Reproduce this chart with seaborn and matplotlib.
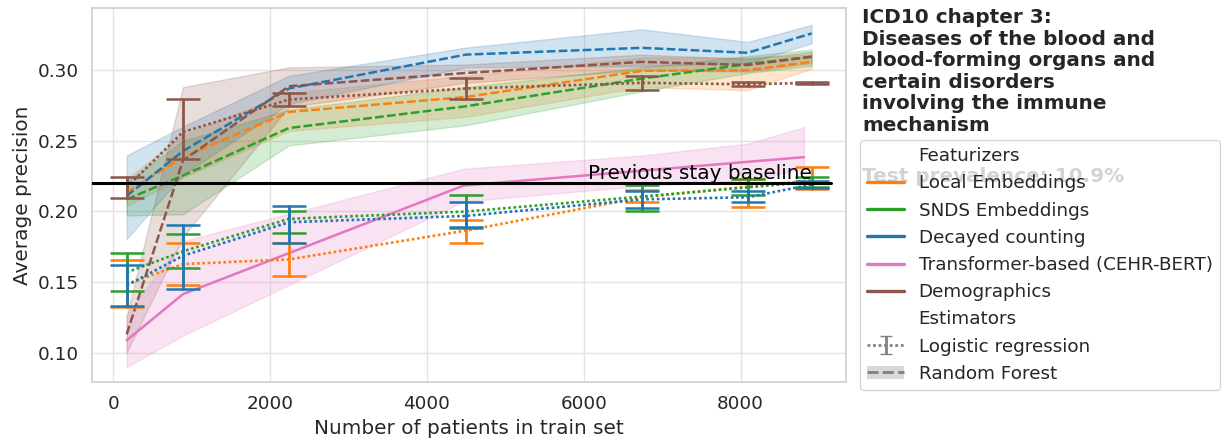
import numpy as np
import pandas as pd
import seaborn as sns
import matplotlib
matplotlib.use("Agg")
import matplotlib.pyplot as plt
from matplotlib.lines import Line2D
from matplotlib.patches import Patch

# ---------------- data ----------------
n_train = [171, 889, 2240, 4497, 6742, 8091, 8907]
n_train_transformer = [171, 889, 4470, 6742, 8091, 8810]

featurizers = ["Local Embeddings", "SNDS Embeddings", "Decayed counting",
               "Transformer-based (CEHR-BERT)", "Demographics"]
colors = ["#ff7f0e", "#2ca02c", "#1f77b4", "#e377c2", "#8c564b"]

# Logistic regression (mean, lower, upper)
lr_local_mean = [0.1485, 0.1627, 0.1660, 0.1864, 0.2100, 0.2175, 0.2220]
lr_local_lo = [0.1324, 0.1478, 0.1542, 0.1778, 0.2065, 0.2029, 0.2160]
lr_local_hi = [0.1658, 0.1776, 0.1773, 0.1937, 0.2153, 0.2228, 0.2313]

lr_snds_mean = [0.1568, 0.1717, 0.1947, 0.1999, 0.2105, 0.2170, 0.2210]
lr_snds_lo = [0.1438, 0.1596, 0.1847, 0.1880, 0.2006, 0.2119, 0.2175]
lr_snds_hi = [0.1702, 0.1840, 0.2006, 0.2119, 0.2188, 0.2231, 0.2240]

lr_decay_mean = [0.1475, 0.1686, 0.1923, 0.1968, 0.2085, 0.2100, 0.2190]
lr_decay_lo = [0.1331, 0.1454, 0.1773, 0.1890, 0.2025, 0.2065, 0.2165]
lr_decay_hi = [0.1617, 0.1906, 0.2036, 0.2065, 0.2141, 0.2143, 0.2215]

lr_demo_mean = [0.2170, 0.2562, 0.2792, 0.2870, 0.2910, 0.2900, 0.2910]
lr_demo_lo = [0.2096, 0.2368, 0.2744, 0.2794, 0.2863, 0.2891, 0.2905]
lr_demo_hi = [0.2242, 0.2794, 0.2839, 0.2946, 0.2957, 0.2917, 0.2915]

# Random forest (mean, lower, upper)
rf_local_mean = [0.2135, 0.2384, 0.2704, 0.2810, 0.2995, 0.3000, 0.3059]
rf_local_lo = [0.2040, 0.2240, 0.2570, 0.2670, 0.2880, 0.2858, 0.3010]
rf_local_hi = [0.2230, 0.2540, 0.2840, 0.2960, 0.3090, 0.3090, 0.3110]

rf_snds_mean = [0.2085, 0.2254, 0.2590, 0.2744, 0.2940, 0.3043, 0.3095]
rf_snds_lo = [0.1970, 0.1980, 0.2467, 0.2610, 0.2850, 0.2980, 0.3030]
rf_snds_hi = [0.2210, 0.2500, 0.2720, 0.2880, 0.3020, 0.3100, 0.3145]

rf_decay_mean = [0.2110, 0.2427, 0.2870, 0.3110, 0.3158, 0.3123, 0.3260]
rf_decay_lo = [0.1805, 0.2260, 0.2760, 0.3020, 0.3030, 0.3050, 0.3190]
rf_decay_hi = [0.2396, 0.2600, 0.2960, 0.3160, 0.3289, 0.3200, 0.3320]

rf_demo_mean = [0.1130, 0.2360, 0.2886, 0.2980, 0.3059, 0.3036, 0.3095]
rf_demo_lo = [0.1000, 0.1820, 0.2740, 0.2910, 0.3000, 0.2990, 0.3050]
rf_demo_hi = [0.1260, 0.2880, 0.3020, 0.3040, 0.3110, 0.3080, 0.3130]

# Transformer-based (fine-tuned)
tr_mean = [0.1087, 0.1414, 0.2183, 0.2288, 0.2351, 0.2384]
tr_lo = [0.0898, 0.1120, 0.2070, 0.2180, 0.2220, 0.2302]
tr_hi = [0.1272, 0.1790, 0.2302, 0.2396, 0.2480, 0.2597]

baseline = 0.22
title = ("ICD10 chapter 3:\nDiseases of the blood and\nblood-forming organs and\n"
         "certain disorders\ninvolving the immune\nmechanism")
prevalence_text = "Test prevalence: 10.9%"


def long_rows(feat, est, xs, lo, mid, hi):
    rows = []
    for x, a, b, c in zip(xs, lo, mid, hi):
        for v in (a, b, c):
            rows.append({"n": x, "ap": v, "feat": feat, "est": est})
    return rows


lr_rows = []
lr_rows += long_rows("Local Embeddings", "LR", n_train, lr_local_lo, lr_local_mean, lr_local_hi)
lr_rows += long_rows("SNDS Embeddings", "LR", n_train, lr_snds_lo, lr_snds_mean, lr_snds_hi)
lr_rows += long_rows("Decayed counting", "LR", n_train, lr_decay_lo, lr_decay_mean, lr_decay_hi)
lr_rows += long_rows("Demographics", "LR", n_train, lr_demo_lo, lr_demo_mean, lr_demo_hi)
df_lr = pd.DataFrame(lr_rows)

rf_rows = []
rf_rows += long_rows("Local Embeddings", "RF", n_train, rf_local_lo, rf_local_mean, rf_local_hi)
rf_rows += long_rows("SNDS Embeddings", "RF", n_train, rf_snds_lo, rf_snds_mean, rf_snds_hi)
rf_rows += long_rows("Decayed counting", "RF", n_train, rf_decay_lo, rf_decay_mean, rf_decay_hi)
rf_rows += long_rows("Demographics", "RF", n_train, rf_demo_lo, rf_demo_mean, rf_demo_hi)
rf_rows += long_rows("Transformer-based (CEHR-BERT)", "TR", n_train_transformer, tr_lo, tr_mean, tr_hi)
df_rf = pd.DataFrame(rf_rows)

palette = dict(zip(featurizers, colors))

# ---------------- plot ----------------
sns.set_theme(style="whitegrid", context="notebook", font_scale=1.2)
plt.rcParams["font.family"] = ["DejaVu Sans"]
plt.rcParams["grid.color"] = "#e3e3e3"
plt.rcParams["axes.edgecolor"] = "#d0d0d0"

fig = plt.figure(figsize=(12.25, 4.46), dpi=100)
ax = fig.add_axes([0.0753, 0.1435, 0.6151, 0.8379])

minmax = lambda v: (v.min(), v.max())

sns.lineplot(data=df_rf, x="n", y="ap", hue="feat", style="est", palette=palette,
             dashes={"RF": (3.5, 1.3), "TR": ""}, estimator="median", lw=1.8,
             errorbar=minmax, err_style="band", ax=ax, legend=False)
sns.lineplot(data=df_lr, x="n", y="ap", hue="feat", style="est", palette=palette,
             dashes={"LR": (1, 1)}, estimator="median", lw=1.9,
             errorbar=minmax, err_style="bars",
             err_kws=dict(capsize=12, elinewidth=2, capthick=1.8), ax=ax, legend=False)

ax.axhline(baseline, xmax=0.981, color="black", lw=2.2, zorder=4)
ax.text(n_train[-1], baseline, "Previous stay baseline", ha="right", va="bottom",
        fontsize=14.4, color="black", zorder=4)

ax.set_xlim(-268, 9342)
ax.set_ylim(0.0792, 0.3438)
ax.set_yticks([0.10, 0.15, 0.20, 0.25, 0.30])
ax.set_xticks([0, 2000, 4000, 6000, 8000])
ax.set_xlabel("Number of patients in train set")
ax.set_ylabel("Average precision")

ax.text(862 / 1225, 1 - 8 / 446, title, transform=fig.transFigure, ha="left", va="top",
        fontsize=14.4, fontweight="bold", color="#262626", linespacing=1.17)
ax.text(862 / 1225, 1 - 177 / 446, prevalence_text, transform=fig.transFigure, ha="left",
        va="center", fontsize=14.4, fontweight="bold", color="#262626", zorder=1, clip_on=False)

# legend
blank = Line2D([], [], color="none")
handles = [blank]
labels = ["Featurizers"]
for f, c in zip(featurizers, colors):
    handles.append(Line2D([], [], color=c, lw=2.4))
    labels.append(f)
handles.append(blank)
labels.append("Estimators")
eb = ax.errorbar([np.nan], [np.nan], yerr=[1.0], color="gray", capsize=4,
                 linestyle=(0, (1, 1)), lw=2)
handles.append(eb)
labels.append("Logistic regression")
handles.append((Patch(facecolor="gray", alpha=0.3, edgecolor="none"),
                Line2D([], [], color="gray", lw=2, dashes=(4, 1.5))))
labels.append("Random Forest")

leg = ax.legend(handles, labels, loc="upper left", bbox_to_anchor=(860 / 1225, 1 - 140 / 446),
                bbox_transform=fig.transFigure, borderaxespad=0, fontsize=13.2,
                frameon=True)
leg.set_zorder(6)

fig.savefig("out.png", dpi=100)
